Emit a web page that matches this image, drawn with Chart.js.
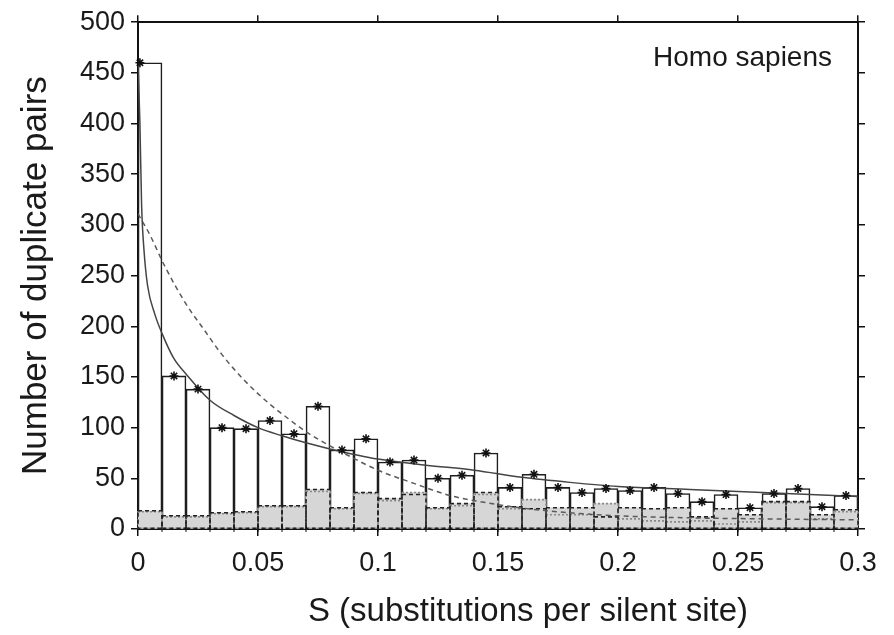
<!DOCTYPE html>
<html>
<head>
<meta charset="utf-8">
<script src="https://cdn.jsdelivr.net/npm/chart.js@4.4.1/dist/chart.umd.min.js"></script>
<style>
  body { margin: 0; background: #fff; }
  #chart { display: block; }
</style>
</head>
<body>
<canvas id="chart" width="894" height="635"></canvas>
<script>
// histogram bins of width 0.01 from 0 to 0.3
const binWidth = 0.01;
const pairCounts   = [460, 151, 138, 100, 99, 107, 94, 121, 78, 89, 66, 68, 50, 53, 75, 41, 54, 41, 36, 40, 38, 41, 35, 27, 34, 21, 35, 40, 22, 33];
const dashedCounts = [18, 13, 13, 16, 17, 23, 23, 39, 21, 36, 30, 34, 21, 25, 36, 22, 20, 21, 21, 12, 21, 20, 21, 12, 20, 14, 27, 27, 14, 19];
const dottedCounts = [17, 12, 12, 15, 16, 22, 22, 37, 20, 35, 28, 36, 20, 23, 34, 20, 29, 14, 14, 25, 10, 8, 7, 8, 5, 7, 26, 26, 10, 17];

// fitted curves
const powerS   = [0, 0.0008, 0.0015, 0.0025, 0.004, 0.007, 0.01, 0.015, 0.02, 0.03, 0.04, 0.05, 0.06, 0.07, 0.08, 0.1, 0.12, 0.14, 0.16, 0.18, 0.2, 0.23, 0.26, 0.3];
const powerFit = [460, 400, 320, 275, 240, 212, 193, 168, 153, 127, 112, 100, 92, 85, 79, 69, 63, 58, 51, 46, 42, 39, 36, 32];
const expS     = [0, 0.005, 0.011, 0.02, 0.0265, 0.035, 0.0446, 0.055, 0.062, 0.07, 0.08, 0.088, 0.1, 0.115, 0.13, 0.145, 0.159, 0.18, 0.2, 0.23, 0.26, 0.3];
const expFit   = [311, 290, 260, 222, 200, 172, 146, 123, 110, 96, 82, 72, 58, 45, 33, 26, 21, 16, 13, 11, 10, 9];

const xTickLabels = ['0', '0.05', '0.1', '0.15', '0.2', '0.25', '0.3'];
const yTickLabels = ['0', '50', '100', '150', '200', '250', '300', '350', '400', '450', '500'];
const xTitle = 'S (substitutions per silent site)';

const fontFamily = '"Liberation Sans", Arial, Helvetica, sans-serif';
const ink = '#1a1a1a';

function binPoints(values) {
    return values.map((v, i) => ({ x: (i + 0.5) * binWidth, y: v }));
}

function curvePoints(xs, ys) {
    return xs.map((x, i) => ({ x, y: ys[i] }));
}

const markerPoints = pairCounts.map((v, i) => ({ x: i === 0 ? 0.0008 : (i + 0.5) * binWidth, y: v }));

// dashed / dotted histogram outlines, drawn once all gray fills are down
const outlinePlugin = {
    id: 'histOutlines',
    afterDatasetDraw(chart, args) {
        const ds = chart.data.datasets[args.index];
        if (!ds.drawOutlines) return;
        const ctx = chart.ctx;
        ctx.save();
        chart.data.datasets.forEach((d, i) => {
            if (!d.outline) return;
            const meta = chart.getDatasetMeta(i);
            ctx.strokeStyle = d.outline.color;
            ctx.lineWidth = d.outline.width;
            ctx.setLineDash(d.outline.dash);
            meta.data.forEach((bar) => {
                const { x, y, base, width } = bar.getProps(['x', 'y', 'base', 'width'], true);
                ctx.strokeRect(x - width / 2, y, width, base - y);
            });
        });
        ctx.restore();
    }
};

const extrasPlugin = {
    id: 'frameExtras',
    afterDraw(chart) {
        const { ctx, chartArea, scales } = chart;
        ctx.save();
        ctx.strokeStyle = '#111';
        ctx.lineWidth = 1;
        for (let i = 1; i < pairCounts.length; i++) {
            const px = scales.x.getPixelForValue(i * binWidth);
            ctx.beginPath();
            ctx.moveTo(px, chartArea.bottom - 4);
            ctx.lineTo(px, chartArea.bottom + 3);
            ctx.stroke();
        }
        ctx.fillStyle = ink;
        ctx.font = `28px ${fontFamily}`;
        ctx.textAlign = 'right';
        ctx.textBaseline = 'alphabetic';
        ctx.fillText('Homo sapiens', chartArea.right - 26, chartArea.top + 44);

        // x axis title sits a little right of the axis centre in the original
        ctx.font = `33px ${fontFamily}`;
        ctx.textAlign = 'center';
        ctx.textBaseline = 'middle';
        ctx.fillText(xTitle, (chartArea.left + chartArea.right) / 2 + 30, chartArea.bottom + 83);
        ctx.restore();
    }
};

const frameGrid = {
    drawOnChartArea: false,
    offset: false,
    color: '#111',
    lineWidth: 1.5,
    tickLength: 7
};
const frameBorder = { color: '#111', width: 2 };

new Chart(document.getElementById('chart'), {
    type: 'bar',
    data: {
        datasets: [
            {
                type: 'scatter',
                data: markerPoints,
                pointStyle: 'star',
                pointRadius: 4.5,
                borderColor: '#111',
                borderWidth: 1.6,
                clip: false,
                order: 1
            },
            {
                type: 'line',
                data: curvePoints(powerS, powerFit),
                borderColor: '#444',
                borderWidth: 1.5,
                pointRadius: 0,
                cubicInterpolationMode: 'monotone',
                fill: false,
                order: 2
            },
            {
                type: 'line',
                data: curvePoints(expS, expFit),
                borderColor: '#5a5a5a',
                borderWidth: 1.5,
                borderDash: [5, 4],
                pointRadius: 0,
                cubicInterpolationMode: 'monotone',
                fill: false,
                order: 3
            },
            {
                data: binPoints(dottedCounts),
                backgroundColor: '#d6d6d6',
                borderWidth: 0,
                outline: { color: '#8a8a8a', width: 1.6, dash: [2, 2] },
                order: 5
            },
            {
                data: binPoints(dashedCounts),
                backgroundColor: '#d6d6d6',
                borderWidth: 0,
                outline: { color: '#222', width: 1.6, dash: [4, 3] },
                drawOutlines: true,
                order: 4
            },
            {
                data: binPoints(pairCounts),
                backgroundColor: '#fff',
                borderColor: '#1e1e1e',
                borderWidth: 1.6,
                order: 6
            }
        ]
    },
    options: {
        responsive: false,
        animation: false,
        devicePixelRatio: 1,
        layout: { padding: 0 },
        datasets: {
            bar: { grouped: false, barPercentage: 1, categoryPercentage: 1 }
        },
        plugins: {
            legend: { display: false },
            tooltip: { enabled: false }
        },
        scales: {
            x: {
                type: 'linear',
                position: 'bottom',
                min: 0,
                max: 0.3,
                offset: false,
                z: 1,
                grid: frameGrid,
                border: frameBorder,
                ticks: {
                    stepSize: 0.05,
                    padding: 11,
                    color: ink,
                    font: { family: fontFamily, size: 27 },
                    maxRotation: 0,
                    callback: (v, i) => xTickLabels[i]
                },
                afterFit: (s) => { s.height = 106; }
            },
            x2: {
                type: 'linear',
                position: 'top',
                min: 0,
                max: 0.3,
                offset: false,
                z: 1,
                grid: frameGrid,
                border: frameBorder,
                ticks: { stepSize: 0.05, display: false },
                afterFit: (s) => { s.height = 19; }
            },
            y: {
                type: 'linear',
                position: 'left',
                min: 0,
                max: 500,
                z: 1,
                grid: frameGrid,
                border: frameBorder,
                ticks: {
                    stepSize: 50,
                    padding: 6,
                    color: ink,
                    font: { family: fontFamily, size: 27 },
                    callback: (v, i) => yTickLabels[i]
                },
                title: {
                    display: true,
                    text: 'Number of duplicate pairs',
                    color: ink,
                    font: { family: fontFamily, size: 35 },
                    padding: { top: 15, bottom: 0 }
                },
                afterFit: (s) => { s.width = 138; }
            },
            y2: {
                type: 'linear',
                position: 'right',
                min: 0,
                max: 500,
                z: 1,
                grid: frameGrid,
                border: frameBorder,
                ticks: { stepSize: 50, display: false },
                afterFit: (s) => { s.width = 36; }
            }
        }
    },
    plugins: [outlinePlugin, extrasPlugin]
});
</script>
</body>
</html>
